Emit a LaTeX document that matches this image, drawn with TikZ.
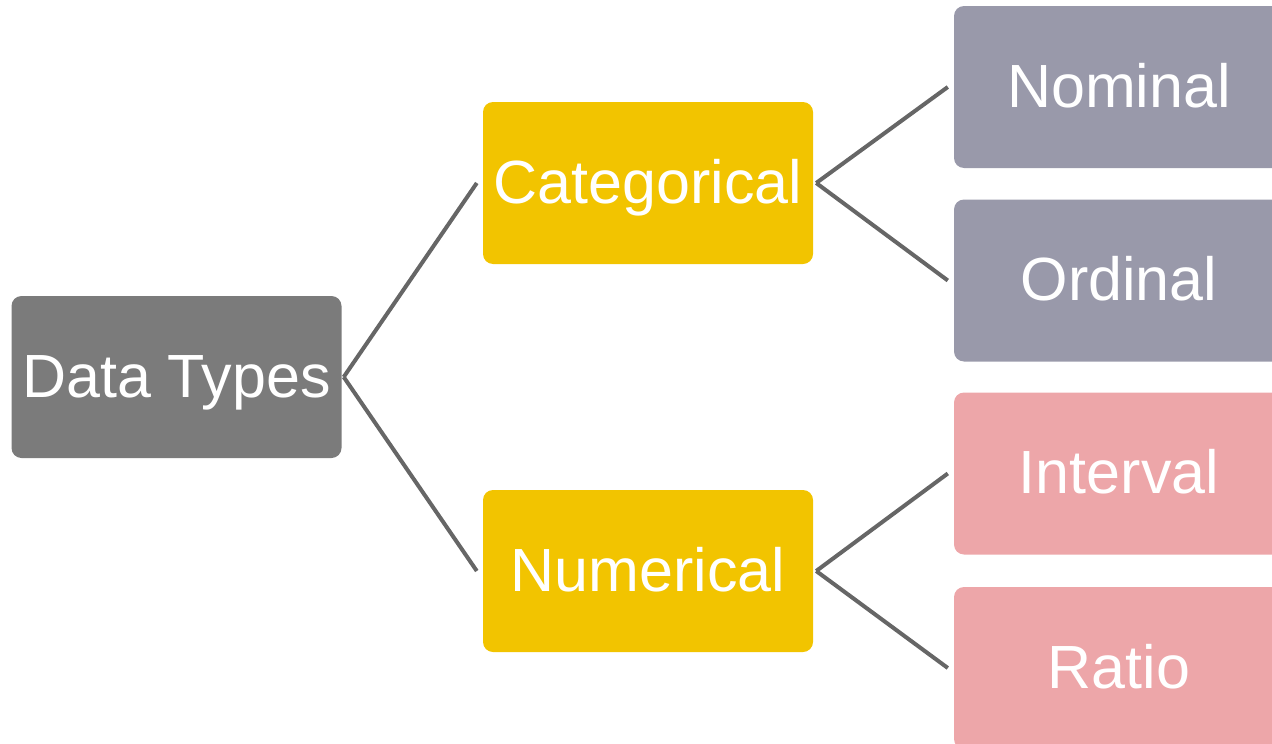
\documentclass[tikz,border=0pt]{standalone}
\usepackage{fontspec}
\setmainfont{Liberation Sans}
\usepackage{tikz}
\usetikzlibrary{shapes,positioning}

\definecolor{rootgray}{HTML}{7B7B7B}
\definecolor{branchyellow}{HTML}{F2C400}
\definecolor{catlilac}{HTML}{9999AA}
\definecolor{numpink}{HTML}{EDA6A9}
\definecolor{linkgray}{HTML}{666666}

\begin{document}
\begin{tikzpicture}[x=1pt,y=-1pt]
			\tikzset{box/.style={rounded corners=10pt,inner sep=0pt,minimum width=330pt,minimum height=162pt,text=white,font=\fontsize{61}{70}\selectfont,text height=44pt,text depth=4pt}}
			\tikzset{link/.style={draw=linkgray,line width=4pt}}
			\useasboundingbox (0,0) rectangle (1272,744);
			\clip (0,0) rectangle (1272,744);
			\node[box,fill=rootgray] (types) at (176.5,377) {Data Types};
			\node[box,fill=branchyellow] (categorical) at (648,183) {Categorical};
			\node[box,fill=branchyellow] (numerical) at (648,571) {Numerical};
			\node[box,fill=catlilac] (nominal) at (1119,87) {Nominal};
			\node[box,fill=catlilac] (ordinal) at (1119,280.5) {Ordinal};
			\node[box,fill=numpink] (interval) at (1119,473.5) {Interval};
			\node[box,fill=numpink] (ratio) at (1119,668) {Ratio};
			\draw[link] ([xshift=2pt]types.east) -- ([xshift=-6pt]categorical.west);
			\draw[link] ([xshift=2pt]types.east) -- ([xshift=-6pt]numerical.west);
			\draw[link] ([xshift=3pt]categorical.east) -- ([xshift=-6pt]nominal.west);
			\draw[link] ([xshift=3pt]categorical.east) -- ([xshift=-6pt]ordinal.west);
			\draw[link] ([xshift=3pt]numerical.east) -- ([xshift=-6pt]interval.west);
			\draw[link] ([xshift=3pt]numerical.east) -- ([xshift=-6pt]ratio.west);
		\end{tikzpicture}
\end{document}
